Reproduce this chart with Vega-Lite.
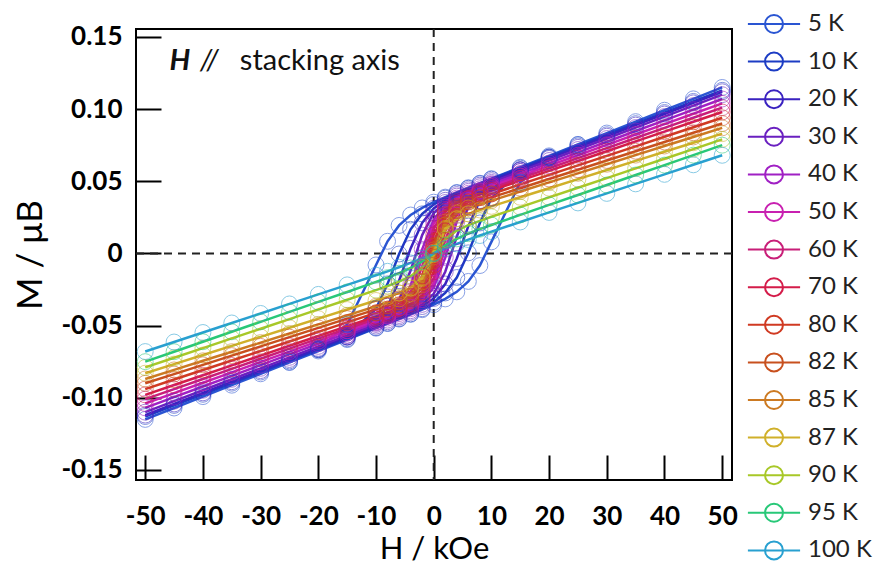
{
"$schema":"https://vega.github.io/schema/vega-lite/v6.json",
"width":596,"height":451,
"autosize":{"type":"none"},
"padding":{"left":136,"top":29,"right":148,"bottom":92},
"background":"white",
"config":{"font":"Lato","view":{"stroke":"black","strokeWidth":2}},
"datasets":{"mh":[
{"T":"5 K","b":"d","H":50,"M":0.115},{"T":"5 K","b":"d","H":45,"M":0.1071},{"T":"5 K","b":"d","H":40,"M":0.0992},{"T":"5 K","b":"d","H":35,"M":0.0913},{"T":"5 K","b":"d","H":30,"M":0.0834},{"T":"5 K","b":"d","H":25,"M":0.0755},{"T":"5 K","b":"d","H":20,"M":0.0676},{"T":"5 K","b":"d","H":15,"M":0.0597},{"T":"5 K","b":"d","H":10,"M":0.0518},{"T":"5 K","b":"d","H":8,"M":0.0486},{"T":"5 K","b":"d","H":6,"M":0.0455},{"T":"5 K","b":"d","H":4,"M":0.0422},{"T":"5 K","b":"d","H":2,"M":0.039},{"T":"5 K","b":"d","H":0,"M":0.0355},{"T":"5 K","b":"d","H":-2,"M":0.0315},{"T":"5 K","b":"d","H":-4,"M":0.0266},{"T":"5 K","b":"d","H":-6,"M":0.0194},{"T":"5 K","b":"d","H":-8,"M":0.0084},{"T":"5 K","b":"d","H":-10,"M":-0.008},{"T":"5 K","b":"d","H":-15,"M":-0.0493},{"T":"5 K","b":"d","H":-20,"M":-0.0663},{"T":"5 K","b":"d","H":-25,"M":-0.0754},{"T":"5 K","b":"d","H":-30,"M":-0.0834},{"T":"5 K","b":"d","H":-35,"M":-0.0913},{"T":"5 K","b":"d","H":-40,"M":-0.0992},{"T":"5 K","b":"d","H":-45,"M":-0.1071},{"T":"5 K","b":"d","H":-50,"M":-0.115},
{"T":"5 K","b":"a","H":-25,"M":-0.0755},{"T":"5 K","b":"a","H":-20,"M":-0.0676},{"T":"5 K","b":"a","H":-15,"M":-0.0597},{"T":"5 K","b":"a","H":-10,"M":-0.0518},{"T":"5 K","b":"a","H":-8,"M":-0.0486},{"T":"5 K","b":"a","H":-6,"M":-0.0455},{"T":"5 K","b":"a","H":-4,"M":-0.0422},{"T":"5 K","b":"a","H":-2,"M":-0.039},{"T":"5 K","b":"a","H":0,"M":-0.0355},{"T":"5 K","b":"a","H":2,"M":-0.0315},{"T":"5 K","b":"a","H":4,"M":-0.0266},{"T":"5 K","b":"a","H":6,"M":-0.0194},{"T":"5 K","b":"a","H":8,"M":-0.0084},{"T":"5 K","b":"a","H":10,"M":0.008},{"T":"5 K","b":"a","H":15,"M":0.0493},{"T":"5 K","b":"a","H":20,"M":0.0663},{"T":"5 K","b":"a","H":25,"M":0.0754},
{"T":"10 K","b":"d","H":50,"M":0.113},{"T":"10 K","b":"d","H":45,"M":0.1053},{"T":"10 K","b":"d","H":40,"M":0.0976},{"T":"10 K","b":"d","H":35,"M":0.0899},{"T":"10 K","b":"d","H":30,"M":0.0822},{"T":"10 K","b":"d","H":25,"M":0.0745},{"T":"10 K","b":"d","H":20,"M":0.0668},{"T":"10 K","b":"d","H":15,"M":0.0591},{"T":"10 K","b":"d","H":10,"M":0.0514},{"T":"10 K","b":"d","H":8,"M":0.0483},{"T":"10 K","b":"d","H":6,"M":0.0451},{"T":"10 K","b":"d","H":4,"M":0.0419},{"T":"10 K","b":"d","H":2,"M":0.0383},{"T":"10 K","b":"d","H":0,"M":0.0339},{"T":"10 K","b":"d","H":-2,"M":0.0274},{"T":"10 K","b":"d","H":-4,"M":0.0167},{"T":"10 K","b":"d","H":-6,"M":-0.0004},{"T":"10 K","b":"d","H":-8,"M":-0.0211},{"T":"10 K","b":"d","H":-10,"M":-0.0383},{"T":"10 K","b":"d","H":-15,"M":-0.0578},{"T":"10 K","b":"d","H":-20,"M":-0.0667},{"T":"10 K","b":"d","H":-25,"M":-0.0745},{"T":"10 K","b":"d","H":-30,"M":-0.0822},{"T":"10 K","b":"d","H":-35,"M":-0.0899},{"T":"10 K","b":"d","H":-40,"M":-0.0976},{"T":"10 K","b":"d","H":-45,"M":-0.1053},{"T":"10 K","b":"d","H":-50,"M":-0.113},
{"T":"10 K","b":"a","H":-20,"M":-0.0668},{"T":"10 K","b":"a","H":-15,"M":-0.0591},{"T":"10 K","b":"a","H":-10,"M":-0.0514},{"T":"10 K","b":"a","H":-8,"M":-0.0483},{"T":"10 K","b":"a","H":-6,"M":-0.0451},{"T":"10 K","b":"a","H":-4,"M":-0.0419},{"T":"10 K","b":"a","H":-2,"M":-0.0383},{"T":"10 K","b":"a","H":0,"M":-0.0339},{"T":"10 K","b":"a","H":2,"M":-0.0274},{"T":"10 K","b":"a","H":4,"M":-0.0167},{"T":"10 K","b":"a","H":6,"M":0.0004},{"T":"10 K","b":"a","H":8,"M":0.0211},{"T":"10 K","b":"a","H":10,"M":0.0383},{"T":"10 K","b":"a","H":15,"M":0.0578},{"T":"10 K","b":"a","H":20,"M":0.0667},
{"T":"20 K","b":"d","H":50,"M":0.112},{"T":"20 K","b":"d","H":45,"M":0.1043},{"T":"20 K","b":"d","H":40,"M":0.0966},{"T":"20 K","b":"d","H":35,"M":0.0889},{"T":"20 K","b":"d","H":30,"M":0.0812},{"T":"20 K","b":"d","H":25,"M":0.0735},{"T":"20 K","b":"d","H":20,"M":0.0658},{"T":"20 K","b":"d","H":15,"M":0.0581},{"T":"20 K","b":"d","H":10,"M":0.0504},{"T":"20 K","b":"d","H":8,"M":0.0473},{"T":"20 K","b":"d","H":6,"M":0.0441},{"T":"20 K","b":"d","H":4,"M":0.0408},{"T":"20 K","b":"d","H":2,"M":0.0368},{"T":"20 K","b":"d","H":0,"M":0.0312},{"T":"20 K","b":"d","H":-2,"M":0.0212},{"T":"20 K","b":"d","H":-4,"M":0.0035},{"T":"20 K","b":"d","H":-6,"M":-0.0189},{"T":"20 K","b":"d","H":-8,"M":-0.0366},{"T":"20 K","b":"d","H":-10,"M":-0.0466},{"T":"20 K","b":"d","H":-15,"M":-0.0579},{"T":"20 K","b":"d","H":-20,"M":-0.0658},{"T":"20 K","b":"d","H":-25,"M":-0.0735},{"T":"20 K","b":"d","H":-30,"M":-0.0812},{"T":"20 K","b":"d","H":-35,"M":-0.0889},{"T":"20 K","b":"d","H":-40,"M":-0.0966},{"T":"20 K","b":"d","H":-45,"M":-0.1043},{"T":"20 K","b":"d","H":-50,"M":-0.112},
{"T":"20 K","b":"a","H":-15,"M":-0.0581},{"T":"20 K","b":"a","H":-10,"M":-0.0504},{"T":"20 K","b":"a","H":-8,"M":-0.0473},{"T":"20 K","b":"a","H":-6,"M":-0.0441},{"T":"20 K","b":"a","H":-4,"M":-0.0408},{"T":"20 K","b":"a","H":-2,"M":-0.0368},{"T":"20 K","b":"a","H":0,"M":-0.0312},{"T":"20 K","b":"a","H":2,"M":-0.0212},{"T":"20 K","b":"a","H":4,"M":-0.0035},{"T":"20 K","b":"a","H":6,"M":0.0189},{"T":"20 K","b":"a","H":8,"M":0.0366},{"T":"20 K","b":"a","H":10,"M":0.0466},{"T":"20 K","b":"a","H":15,"M":0.0579},
{"T":"30 K","b":"d","H":50,"M":0.11},{"T":"30 K","b":"d","H":45,"M":0.1024},{"T":"30 K","b":"d","H":40,"M":0.0948},{"T":"30 K","b":"d","H":35,"M":0.0872},{"T":"30 K","b":"d","H":30,"M":0.0796},{"T":"30 K","b":"d","H":25,"M":0.072},{"T":"30 K","b":"d","H":20,"M":0.0644},{"T":"30 K","b":"d","H":15,"M":0.0568},{"T":"30 K","b":"d","H":10,"M":0.0492},{"T":"30 K","b":"d","H":8,"M":0.0462},{"T":"30 K","b":"d","H":6,"M":0.043},{"T":"30 K","b":"d","H":4,"M":0.0397},{"T":"30 K","b":"d","H":2,"M":0.0353},{"T":"30 K","b":"d","H":0,"M":0.028},{"T":"30 K","b":"d","H":-2,"M":0.0127},{"T":"30 K","b":"d","H":-4,"M":-0.0117},{"T":"30 K","b":"d","H":-6,"M":-0.0323},{"T":"30 K","b":"d","H":-8,"M":-0.043},{"T":"30 K","b":"d","H":-10,"M":-0.0483},{"T":"30 K","b":"d","H":-15,"M":-0.0568},{"T":"30 K","b":"d","H":-20,"M":-0.0644},{"T":"30 K","b":"d","H":-25,"M":-0.072},{"T":"30 K","b":"d","H":-30,"M":-0.0796},{"T":"30 K","b":"d","H":-35,"M":-0.0872},{"T":"30 K","b":"d","H":-40,"M":-0.0948},{"T":"30 K","b":"d","H":-45,"M":-0.1024},{"T":"30 K","b":"d","H":-50,"M":-0.11},
{"T":"30 K","b":"a","H":-15,"M":-0.0568},{"T":"30 K","b":"a","H":-10,"M":-0.0492},{"T":"30 K","b":"a","H":-8,"M":-0.0462},{"T":"30 K","b":"a","H":-6,"M":-0.043},{"T":"30 K","b":"a","H":-4,"M":-0.0397},{"T":"30 K","b":"a","H":-2,"M":-0.0353},{"T":"30 K","b":"a","H":0,"M":-0.028},{"T":"30 K","b":"a","H":2,"M":-0.0127},{"T":"30 K","b":"a","H":4,"M":0.0117},{"T":"30 K","b":"a","H":6,"M":0.0323},{"T":"30 K","b":"a","H":8,"M":0.043},{"T":"30 K","b":"a","H":10,"M":0.0483},{"T":"30 K","b":"a","H":15,"M":0.0568},
{"T":"40 K","b":"d","H":50,"M":0.107},{"T":"40 K","b":"d","H":45,"M":0.0996},{"T":"40 K","b":"d","H":40,"M":0.0922},{"T":"40 K","b":"d","H":35,"M":0.0848},{"T":"40 K","b":"d","H":30,"M":0.0774},{"T":"40 K","b":"d","H":25,"M":0.07},{"T":"40 K","b":"d","H":20,"M":0.0626},{"T":"40 K","b":"d","H":15,"M":0.0552},{"T":"40 K","b":"d","H":10,"M":0.0478},{"T":"40 K","b":"d","H":8,"M":0.0448},{"T":"40 K","b":"d","H":6,"M":0.0417},{"T":"40 K","b":"d","H":4,"M":0.0383},{"T":"40 K","b":"d","H":2,"M":0.0335},{"T":"40 K","b":"d","H":0,"M":0.0235},{"T":"40 K","b":"d","H":-2,"M":0.0028},{"T":"40 K","b":"d","H":-4,"M":-0.0221},{"T":"40 K","b":"d","H":-6,"M":-0.0369},{"T":"40 K","b":"d","H":-8,"M":-0.0435},{"T":"40 K","b":"d","H":-10,"M":-0.0475},{"T":"40 K","b":"d","H":-15,"M":-0.0552},{"T":"40 K","b":"d","H":-20,"M":-0.0626},{"T":"40 K","b":"d","H":-25,"M":-0.07},{"T":"40 K","b":"d","H":-30,"M":-0.0774},{"T":"40 K","b":"d","H":-35,"M":-0.0848},{"T":"40 K","b":"d","H":-40,"M":-0.0922},{"T":"40 K","b":"d","H":-45,"M":-0.0996},{"T":"40 K","b":"d","H":-50,"M":-0.107},
{"T":"40 K","b":"a","H":-15,"M":-0.0552},{"T":"40 K","b":"a","H":-10,"M":-0.0478},{"T":"40 K","b":"a","H":-8,"M":-0.0448},{"T":"40 K","b":"a","H":-6,"M":-0.0417},{"T":"40 K","b":"a","H":-4,"M":-0.0383},{"T":"40 K","b":"a","H":-2,"M":-0.0335},{"T":"40 K","b":"a","H":0,"M":-0.0235},{"T":"40 K","b":"a","H":2,"M":-0.0028},{"T":"40 K","b":"a","H":4,"M":0.0221},{"T":"40 K","b":"a","H":6,"M":0.0369},{"T":"40 K","b":"a","H":8,"M":0.0435},{"T":"40 K","b":"a","H":10,"M":0.0475},{"T":"40 K","b":"a","H":15,"M":0.0552},
{"T":"50 K","b":"d","H":50,"M":0.104},{"T":"50 K","b":"d","H":45,"M":0.0968},{"T":"50 K","b":"d","H":40,"M":0.0896},{"T":"50 K","b":"d","H":35,"M":0.0824},{"T":"50 K","b":"d","H":30,"M":0.0752},{"T":"50 K","b":"d","H":25,"M":0.068},{"T":"50 K","b":"d","H":20,"M":0.0608},{"T":"50 K","b":"d","H":15,"M":0.0536},{"T":"50 K","b":"d","H":10,"M":0.0464},{"T":"50 K","b":"d","H":8,"M":0.0435},{"T":"50 K","b":"d","H":6,"M":0.0405},{"T":"50 K","b":"d","H":4,"M":0.0372},{"T":"50 K","b":"d","H":2,"M":0.0321},{"T":"50 K","b":"d","H":0,"M":0.0207},{"T":"50 K","b":"d","H":-2,"M":-0.0029},{"T":"50 K","b":"d","H":-4,"M":-0.0265},{"T":"50 K","b":"d","H":-6,"M":-0.0378},{"T":"50 K","b":"d","H":-8,"M":-0.0429},{"T":"50 K","b":"d","H":-10,"M":-0.0463},{"T":"50 K","b":"d","H":-15,"M":-0.0536},{"T":"50 K","b":"d","H":-20,"M":-0.0608},{"T":"50 K","b":"d","H":-25,"M":-0.068},{"T":"50 K","b":"d","H":-30,"M":-0.0752},{"T":"50 K","b":"d","H":-35,"M":-0.0824},{"T":"50 K","b":"d","H":-40,"M":-0.0896},{"T":"50 K","b":"d","H":-45,"M":-0.0968},{"T":"50 K","b":"d","H":-50,"M":-0.104},
{"T":"50 K","b":"a","H":-15,"M":-0.0536},{"T":"50 K","b":"a","H":-10,"M":-0.0464},{"T":"50 K","b":"a","H":-8,"M":-0.0435},{"T":"50 K","b":"a","H":-6,"M":-0.0405},{"T":"50 K","b":"a","H":-4,"M":-0.0372},{"T":"50 K","b":"a","H":-2,"M":-0.0321},{"T":"50 K","b":"a","H":0,"M":-0.0207},{"T":"50 K","b":"a","H":2,"M":0.0029},{"T":"50 K","b":"a","H":4,"M":0.0265},{"T":"50 K","b":"a","H":6,"M":0.0378},{"T":"50 K","b":"a","H":8,"M":0.0429},{"T":"50 K","b":"a","H":10,"M":0.0463},{"T":"50 K","b":"a","H":15,"M":0.0536},
{"T":"60 K","b":"d","H":50,"M":0.101},{"T":"60 K","b":"d","H":45,"M":0.094},{"T":"60 K","b":"d","H":40,"M":0.087},{"T":"60 K","b":"d","H":35,"M":0.08},{"T":"60 K","b":"d","H":30,"M":0.073},{"T":"60 K","b":"d","H":25,"M":0.066},{"T":"60 K","b":"d","H":20,"M":0.059},{"T":"60 K","b":"d","H":15,"M":0.052},{"T":"60 K","b":"d","H":10,"M":0.045},{"T":"60 K","b":"d","H":8,"M":0.0422},{"T":"60 K","b":"d","H":6,"M":0.0393},{"T":"60 K","b":"d","H":4,"M":0.0359},{"T":"60 K","b":"d","H":2,"M":0.0306},{"T":"60 K","b":"d","H":0,"M":0.0172},{"T":"60 K","b":"d","H":-2,"M":-0.0092},{"T":"60 K","b":"d","H":-4,"M":-0.0297},{"T":"60 K","b":"d","H":-6,"M":-0.038},{"T":"60 K","b":"d","H":-8,"M":-0.0419},{"T":"60 K","b":"d","H":-10,"M":-0.0449},{"T":"60 K","b":"d","H":-15,"M":-0.052},{"T":"60 K","b":"d","H":-20,"M":-0.059},{"T":"60 K","b":"d","H":-25,"M":-0.066},{"T":"60 K","b":"d","H":-30,"M":-0.073},{"T":"60 K","b":"d","H":-35,"M":-0.08},{"T":"60 K","b":"d","H":-40,"M":-0.087},{"T":"60 K","b":"d","H":-45,"M":-0.094},{"T":"60 K","b":"d","H":-50,"M":-0.101},
{"T":"60 K","b":"a","H":-15,"M":-0.052},{"T":"60 K","b":"a","H":-10,"M":-0.045},{"T":"60 K","b":"a","H":-8,"M":-0.0422},{"T":"60 K","b":"a","H":-6,"M":-0.0393},{"T":"60 K","b":"a","H":-4,"M":-0.0359},{"T":"60 K","b":"a","H":-2,"M":-0.0306},{"T":"60 K","b":"a","H":0,"M":-0.0172},{"T":"60 K","b":"a","H":2,"M":0.0092},{"T":"60 K","b":"a","H":4,"M":0.0297},{"T":"60 K","b":"a","H":6,"M":0.038},{"T":"60 K","b":"a","H":8,"M":0.0419},{"T":"60 K","b":"a","H":10,"M":0.0449},{"T":"60 K","b":"a","H":15,"M":0.052},
{"T":"70 K","b":"d","H":50,"M":0.098},{"T":"70 K","b":"d","H":45,"M":0.0912},{"T":"70 K","b":"d","H":40,"M":0.0844},{"T":"70 K","b":"d","H":35,"M":0.0776},{"T":"70 K","b":"d","H":30,"M":0.0708},{"T":"70 K","b":"d","H":25,"M":0.064},{"T":"70 K","b":"d","H":20,"M":0.0572},{"T":"70 K","b":"d","H":15,"M":0.0504},{"T":"70 K","b":"d","H":10,"M":0.0436},{"T":"70 K","b":"d","H":8,"M":0.0409},{"T":"70 K","b":"d","H":6,"M":0.0381},{"T":"70 K","b":"d","H":4,"M":0.0348},{"T":"70 K","b":"d","H":2,"M":0.029},{"T":"70 K","b":"d","H":0,"M":0.0128},{"T":"70 K","b":"d","H":-2,"M":-0.0155},{"T":"70 K","b":"d","H":-4,"M":-0.0317},{"T":"70 K","b":"d","H":-6,"M":-0.0376},{"T":"70 K","b":"d","H":-8,"M":-0.0408},{"T":"70 K","b":"d","H":-10,"M":-0.0436},{"T":"70 K","b":"d","H":-15,"M":-0.0504},{"T":"70 K","b":"d","H":-20,"M":-0.0572},{"T":"70 K","b":"d","H":-25,"M":-0.064},{"T":"70 K","b":"d","H":-30,"M":-0.0708},{"T":"70 K","b":"d","H":-35,"M":-0.0776},{"T":"70 K","b":"d","H":-40,"M":-0.0844},{"T":"70 K","b":"d","H":-45,"M":-0.0912},{"T":"70 K","b":"d","H":-50,"M":-0.098},
{"T":"70 K","b":"a","H":-10,"M":-0.0436},{"T":"70 K","b":"a","H":-8,"M":-0.0409},{"T":"70 K","b":"a","H":-6,"M":-0.0381},{"T":"70 K","b":"a","H":-4,"M":-0.0348},{"T":"70 K","b":"a","H":-2,"M":-0.029},{"T":"70 K","b":"a","H":0,"M":-0.0128},{"T":"70 K","b":"a","H":2,"M":0.0155},{"T":"70 K","b":"a","H":4,"M":0.0317},{"T":"70 K","b":"a","H":6,"M":0.0376},{"T":"70 K","b":"a","H":8,"M":0.0408},{"T":"70 K","b":"a","H":10,"M":0.0436},
{"T":"80 K","b":"d","H":50,"M":0.094},{"T":"80 K","b":"d","H":45,"M":0.0874},{"T":"80 K","b":"d","H":40,"M":0.0808},{"T":"80 K","b":"d","H":35,"M":0.0742},{"T":"80 K","b":"d","H":30,"M":0.0676},{"T":"80 K","b":"d","H":25,"M":0.061},{"T":"80 K","b":"d","H":20,"M":0.0544},{"T":"80 K","b":"d","H":15,"M":0.0478},{"T":"80 K","b":"d","H":10,"M":0.0412},{"T":"80 K","b":"d","H":8,"M":0.0386},{"T":"80 K","b":"d","H":6,"M":0.0358},{"T":"80 K","b":"d","H":4,"M":0.0327},{"T":"80 K","b":"d","H":2,"M":0.0267},{"T":"80 K","b":"d","H":0,"M":0.0081},{"T":"80 K","b":"d","H":-2,"M":-0.0195},{"T":"80 K","b":"d","H":-4,"M":-0.0315},{"T":"80 K","b":"d","H":-6,"M":-0.0356},{"T":"80 K","b":"d","H":-8,"M":-0.0386},{"T":"80 K","b":"d","H":-10,"M":-0.0412},{"T":"80 K","b":"d","H":-15,"M":-0.0478},{"T":"80 K","b":"d","H":-20,"M":-0.0544},{"T":"80 K","b":"d","H":-25,"M":-0.061},{"T":"80 K","b":"d","H":-30,"M":-0.0676},{"T":"80 K","b":"d","H":-35,"M":-0.0742},{"T":"80 K","b":"d","H":-40,"M":-0.0808},{"T":"80 K","b":"d","H":-45,"M":-0.0874},{"T":"80 K","b":"d","H":-50,"M":-0.094},
{"T":"80 K","b":"a","H":-10,"M":-0.0412},{"T":"80 K","b":"a","H":-8,"M":-0.0386},{"T":"80 K","b":"a","H":-6,"M":-0.0358},{"T":"80 K","b":"a","H":-4,"M":-0.0327},{"T":"80 K","b":"a","H":-2,"M":-0.0267},{"T":"80 K","b":"a","H":0,"M":-0.0081},{"T":"80 K","b":"a","H":2,"M":0.0195},{"T":"80 K","b":"a","H":4,"M":0.0315},{"T":"80 K","b":"a","H":6,"M":0.0356},{"T":"80 K","b":"a","H":8,"M":0.0386},{"T":"80 K","b":"a","H":10,"M":0.0412},
{"T":"82 K","b":"d","H":50,"M":0.09},{"T":"82 K","b":"d","H":45,"M":0.0836},{"T":"82 K","b":"d","H":40,"M":0.0772},{"T":"82 K","b":"d","H":35,"M":0.0708},{"T":"82 K","b":"d","H":30,"M":0.0644},{"T":"82 K","b":"d","H":25,"M":0.058},{"T":"82 K","b":"d","H":20,"M":0.0516},{"T":"82 K","b":"d","H":15,"M":0.0452},{"T":"82 K","b":"d","H":10,"M":0.0388},{"T":"82 K","b":"d","H":8,"M":0.0362},{"T":"82 K","b":"d","H":6,"M":0.0336},{"T":"82 K","b":"d","H":4,"M":0.0305},{"T":"82 K","b":"d","H":2,"M":0.0243},{"T":"82 K","b":"d","H":0,"M":0.0051},{"T":"82 K","b":"d","H":-2,"M":-0.0199},{"T":"82 K","b":"d","H":-4,"M":-0.0297},{"T":"82 K","b":"d","H":-6,"M":-0.0335},{"T":"82 K","b":"d","H":-8,"M":-0.0362},{"T":"82 K","b":"d","H":-10,"M":-0.0388},{"T":"82 K","b":"d","H":-15,"M":-0.0452},{"T":"82 K","b":"d","H":-20,"M":-0.0516},{"T":"82 K","b":"d","H":-25,"M":-0.058},{"T":"82 K","b":"d","H":-30,"M":-0.0644},{"T":"82 K","b":"d","H":-35,"M":-0.0708},{"T":"82 K","b":"d","H":-40,"M":-0.0772},{"T":"82 K","b":"d","H":-45,"M":-0.0836},{"T":"82 K","b":"d","H":-50,"M":-0.09},
{"T":"82 K","b":"a","H":-8,"M":-0.0362},{"T":"82 K","b":"a","H":-6,"M":-0.0336},{"T":"82 K","b":"a","H":-4,"M":-0.0305},{"T":"82 K","b":"a","H":-2,"M":-0.0243},{"T":"82 K","b":"a","H":0,"M":-0.0051},{"T":"82 K","b":"a","H":2,"M":0.0199},{"T":"82 K","b":"a","H":4,"M":0.0297},{"T":"82 K","b":"a","H":6,"M":0.0335},{"T":"82 K","b":"a","H":8,"M":0.0362},
{"T":"85 K","b":"d","H":50,"M":0.087},{"T":"85 K","b":"d","H":45,"M":0.0807},{"T":"85 K","b":"d","H":40,"M":0.0744},{"T":"85 K","b":"d","H":35,"M":0.0681},{"T":"85 K","b":"d","H":30,"M":0.0618},{"T":"85 K","b":"d","H":25,"M":0.0555},{"T":"85 K","b":"d","H":20,"M":0.0492},{"T":"85 K","b":"d","H":15,"M":0.0429},{"T":"85 K","b":"d","H":10,"M":0.0366},{"T":"85 K","b":"d","H":8,"M":0.0341},{"T":"85 K","b":"d","H":6,"M":0.0315},{"T":"85 K","b":"d","H":4,"M":0.0283},{"T":"85 K","b":"d","H":2,"M":0.0217},{"T":"85 K","b":"d","H":0,"M":0.0024},{"T":"85 K","b":"d","H":-2,"M":-0.0197},{"T":"85 K","b":"d","H":-4,"M":-0.0279},{"T":"85 K","b":"d","H":-6,"M":-0.0315},{"T":"85 K","b":"d","H":-8,"M":-0.0341},{"T":"85 K","b":"d","H":-10,"M":-0.0366},{"T":"85 K","b":"d","H":-15,"M":-0.0429},{"T":"85 K","b":"d","H":-20,"M":-0.0492},{"T":"85 K","b":"d","H":-25,"M":-0.0555},{"T":"85 K","b":"d","H":-30,"M":-0.0618},{"T":"85 K","b":"d","H":-35,"M":-0.0681},{"T":"85 K","b":"d","H":-40,"M":-0.0744},{"T":"85 K","b":"d","H":-45,"M":-0.0807},{"T":"85 K","b":"d","H":-50,"M":-0.087},
{"T":"85 K","b":"a","H":-6,"M":-0.0315},{"T":"85 K","b":"a","H":-4,"M":-0.0283},{"T":"85 K","b":"a","H":-2,"M":-0.0217},{"T":"85 K","b":"a","H":0,"M":-0.0024},{"T":"85 K","b":"a","H":2,"M":0.0197},{"T":"85 K","b":"a","H":4,"M":0.0279},{"T":"85 K","b":"a","H":6,"M":0.0315},
{"T":"87 K","b":"d","H":50,"M":0.083},{"T":"87 K","b":"d","H":45,"M":0.0767},{"T":"87 K","b":"d","H":40,"M":0.0704},{"T":"87 K","b":"d","H":35,"M":0.0641},{"T":"87 K","b":"d","H":30,"M":0.0578},{"T":"87 K","b":"d","H":25,"M":0.0515},{"T":"87 K","b":"d","H":20,"M":0.0452},{"T":"87 K","b":"d","H":15,"M":0.0389},{"T":"87 K","b":"d","H":10,"M":0.0326},{"T":"87 K","b":"d","H":8,"M":0.0301},{"T":"87 K","b":"d","H":6,"M":0.0274},{"T":"87 K","b":"d","H":4,"M":0.0241},{"T":"87 K","b":"d","H":2,"M":0.0173},{"T":"87 K","b":"d","H":0,"M":0.0009},{"T":"87 K","b":"d","H":-2,"M":-0.0165},{"T":"87 K","b":"d","H":-4,"M":-0.0239},{"T":"87 K","b":"d","H":-6,"M":-0.0274},{"T":"87 K","b":"d","H":-8,"M":-0.0301},{"T":"87 K","b":"d","H":-10,"M":-0.0326},{"T":"87 K","b":"d","H":-15,"M":-0.0389},{"T":"87 K","b":"d","H":-20,"M":-0.0452},{"T":"87 K","b":"d","H":-25,"M":-0.0515},{"T":"87 K","b":"d","H":-30,"M":-0.0578},{"T":"87 K","b":"d","H":-35,"M":-0.0641},{"T":"87 K","b":"d","H":-40,"M":-0.0704},{"T":"87 K","b":"d","H":-45,"M":-0.0767},{"T":"87 K","b":"d","H":-50,"M":-0.083},
{"T":"87 K","b":"a","H":-6,"M":-0.0274},{"T":"87 K","b":"a","H":-4,"M":-0.0241},{"T":"87 K","b":"a","H":-2,"M":-0.0173},{"T":"87 K","b":"a","H":0,"M":-0.0009},{"T":"87 K","b":"a","H":2,"M":0.0165},{"T":"87 K","b":"a","H":4,"M":0.0239},{"T":"87 K","b":"a","H":6,"M":0.0274},
{"T":"90 K","b":"d","H":50,"M":0.079},{"T":"90 K","b":"d","H":45,"M":0.0723},{"T":"90 K","b":"d","H":40,"M":0.0656},{"T":"90 K","b":"d","H":35,"M":0.0589},{"T":"90 K","b":"d","H":30,"M":0.0522},{"T":"90 K","b":"d","H":25,"M":0.0455},{"T":"90 K","b":"d","H":20,"M":0.0388},{"T":"90 K","b":"d","H":15,"M":0.0321},{"T":"90 K","b":"d","H":10,"M":0.0254},{"T":"90 K","b":"d","H":8,"M":0.0226},{"T":"90 K","b":"d","H":6,"M":0.0196},{"T":"90 K","b":"d","H":4,"M":0.0158},{"T":"90 K","b":"d","H":2,"M":0.0097},{"T":"90 K","b":"d","H":0,"M":0},{"T":"90 K","b":"d","H":-2,"M":-0.0097},{"T":"90 K","b":"d","H":-4,"M":-0.0158},{"T":"90 K","b":"d","H":-6,"M":-0.0196},{"T":"90 K","b":"d","H":-8,"M":-0.0226},{"T":"90 K","b":"d","H":-10,"M":-0.0254},{"T":"90 K","b":"d","H":-15,"M":-0.0321},{"T":"90 K","b":"d","H":-20,"M":-0.0388},{"T":"90 K","b":"d","H":-25,"M":-0.0455},{"T":"90 K","b":"d","H":-30,"M":-0.0522},{"T":"90 K","b":"d","H":-35,"M":-0.0589},{"T":"90 K","b":"d","H":-40,"M":-0.0656},{"T":"90 K","b":"d","H":-45,"M":-0.0723},{"T":"90 K","b":"d","H":-50,"M":-0.079},
{"T":"95 K","b":"d","H":50,"M":0.075},{"T":"95 K","b":"d","H":45,"M":0.0681},{"T":"95 K","b":"d","H":40,"M":0.0612},{"T":"95 K","b":"d","H":35,"M":0.0543},{"T":"95 K","b":"d","H":30,"M":0.0474},{"T":"95 K","b":"d","H":25,"M":0.0405},{"T":"95 K","b":"d","H":20,"M":0.0336},{"T":"95 K","b":"d","H":15,"M":0.0267},{"T":"95 K","b":"d","H":10,"M":0.0197},{"T":"95 K","b":"d","H":8,"M":0.0168},{"T":"95 K","b":"d","H":6,"M":0.0137},{"T":"95 K","b":"d","H":4,"M":0.0101},{"T":"95 K","b":"d","H":2,"M":0.0056},{"T":"95 K","b":"d","H":0,"M":0},{"T":"95 K","b":"d","H":-2,"M":-0.0056},{"T":"95 K","b":"d","H":-4,"M":-0.0101},{"T":"95 K","b":"d","H":-6,"M":-0.0137},{"T":"95 K","b":"d","H":-8,"M":-0.0168},{"T":"95 K","b":"d","H":-10,"M":-0.0197},{"T":"95 K","b":"d","H":-15,"M":-0.0267},{"T":"95 K","b":"d","H":-20,"M":-0.0336},{"T":"95 K","b":"d","H":-25,"M":-0.0405},{"T":"95 K","b":"d","H":-30,"M":-0.0474},{"T":"95 K","b":"d","H":-35,"M":-0.0543},{"T":"95 K","b":"d","H":-40,"M":-0.0612},{"T":"95 K","b":"d","H":-45,"M":-0.0681},{"T":"95 K","b":"d","H":-50,"M":-0.075},
{"T":"100 K","b":"d","H":50,"M":0.068},{"T":"100 K","b":"d","H":45,"M":0.0614},{"T":"100 K","b":"d","H":40,"M":0.0548},{"T":"100 K","b":"d","H":35,"M":0.0482},{"T":"100 K","b":"d","H":30,"M":0.0416},{"T":"100 K","b":"d","H":25,"M":0.035},{"T":"100 K","b":"d","H":20,"M":0.0284},{"T":"100 K","b":"d","H":15,"M":0.0218},{"T":"100 K","b":"d","H":10,"M":0.0151},{"T":"100 K","b":"d","H":8,"M":0.0124},{"T":"100 K","b":"d","H":6,"M":0.0096},{"T":"100 K","b":"d","H":4,"M":0.0066},{"T":"100 K","b":"d","H":2,"M":0.0034},{"T":"100 K","b":"d","H":0,"M":0},{"T":"100 K","b":"d","H":-2,"M":-0.0034},{"T":"100 K","b":"d","H":-4,"M":-0.0066},{"T":"100 K","b":"d","H":-6,"M":-0.0096},{"T":"100 K","b":"d","H":-8,"M":-0.0124},{"T":"100 K","b":"d","H":-10,"M":-0.0151},{"T":"100 K","b":"d","H":-15,"M":-0.0218},{"T":"100 K","b":"d","H":-20,"M":-0.0284},{"T":"100 K","b":"d","H":-25,"M":-0.035},{"T":"100 K","b":"d","H":-30,"M":-0.0416},{"T":"100 K","b":"d","H":-35,"M":-0.0482},{"T":"100 K","b":"d","H":-40,"M":-0.0548},{"T":"100 K","b":"d","H":-45,"M":-0.0614},{"T":"100 K","b":"d","H":-50,"M":-0.068}
]},
"layer":[
{"data":{"values":[{}]},"mark":{"type":"rule","strokeDash":[8,6],"strokeWidth":2,"color":"#222222"},"encoding":{"x":{"datum":0,"type":"quantitative"}}},
{"data":{"values":[{}]},"mark":{"type":"rule","strokeDash":[8,6],"strokeWidth":2,"color":"#222222"},"encoding":{"y":{"datum":0,"type":"quantitative"}}},
{"data":{"name":"mh"},"mark":{"type":"line","strokeWidth":2.5,"clip":true},
 "encoding":{
  "x":{"field":"H","type":"quantitative","scale":{"domain":[-51.6,51.7],"nice":false,"zero":false},
   "axis":{"title":"H / kOe","values":[-50,-40,-30,-20,-10,0,10,20,30,40,50],"labelExpr":"(datum.value < 0 ? '-' : '') + format(abs(datum.value), 'd')","domain":false,"grid":false,"tickSize":-25,"tickWidth":2,"tickColor":"black","labelPadding":48,"labelFontSize":26,"labelFontWeight":"bold","labelColor":"black","labelFont":"Lato","titleFont":"Lato","titleFontSize":31,"titleFontWeight":"normal","titleColor":"black","titlePadding":5}},
  "y":{"field":"M","type":"quantitative","scale":{"domain":[-0.157,0.1555],"nice":false,"zero":false},
   "axis":{"title":"M / μB","values":[-0.15,-0.1,-0.05,0,0.05,0.1,0.15],"labelExpr":"datum.value == 0 ? '0' : (datum.value < 0 ? '-' : '') + format(abs(datum.value), '.2f')","domain":false,"grid":false,"tickSize":-25,"tickWidth":2,"tickColor":"black","labelPadding":39,"labelFontSize":26,"labelFontWeight":"bold","labelColor":"black","labelFont":"Lato","titleFont":"Lato","titleFontSize":35,"titleFontWeight":"normal","titleColor":"black","titlePadding":12}},
  "color":{"field":"T","type":"nominal",
   "scale":{"domain":["5 K","10 K","20 K","30 K","40 K","50 K","60 K","70 K","80 K","82 K","85 K","87 K","90 K","95 K","100 K"],
    "range":["#2a55d2","#1c3cc4","#3a22c0","#6a20c0","#a020c4","#c820b0","#c81e78","#d41c4a","#d03a22","#c8501e","#cc7a22","#d0b02a","#a8c828","#28c878","#28a0d0"]},
   "legend":{"title":null,"orient":"none","legendX":626,"legendY":-17,"symbolType":"M-2.9,0H2.9M1,0A1,1,0,1,1,-1,0A1,1,0,1,1,1,0","symbolSize":324,"symbolStrokeWidth":2,"symbolFillColor":"transparent","labelFontSize":24,"labelFont":"Lato","labelColor":"#222222","labelOffset":22,"rowPadding":11.6,"padding":0}},
  "detail":{"field":"b"}}},
{"data":{"name":"mh"},"mark":{"type":"point","shape":"circle","filled":false,"size":254,"strokeWidth":1,"opacity":0.55,"clip":true},
 "encoding":{
  "x":{"field":"H","type":"quantitative"},
  "y":{"field":"M","type":"quantitative"},
  "color":{"field":"T","type":"nominal","legend":null}}},
{"data":{"values":[{}]},"mark":{"type":"text","text":"H","fontSize":29,"fontWeight":"bold","fontStyle":"italic","align":"left","baseline":"middle","color":"#111111"},"encoding":{"x":{"datum":-45.8,"type":"quantitative"},"y":{"datum":0.133,"type":"quantitative"}}},
{"data":{"values":[{}]},"mark":{"type":"text","text":"//","fontSize":29,"fontStyle":"italic","align":"center","baseline":"middle","color":"#111111"},"encoding":{"x":{"datum":-38.9,"type":"quantitative"},"y":{"datum":0.133,"type":"quantitative"}}},
{"data":{"values":[{}]},"mark":{"type":"text","text":"stacking axis","fontSize":29,"align":"left","baseline":"middle","color":"#111111"},"encoding":{"x":{"datum":-33.6,"type":"quantitative"},"y":{"datum":0.133,"type":"quantitative"}}}
]
}
